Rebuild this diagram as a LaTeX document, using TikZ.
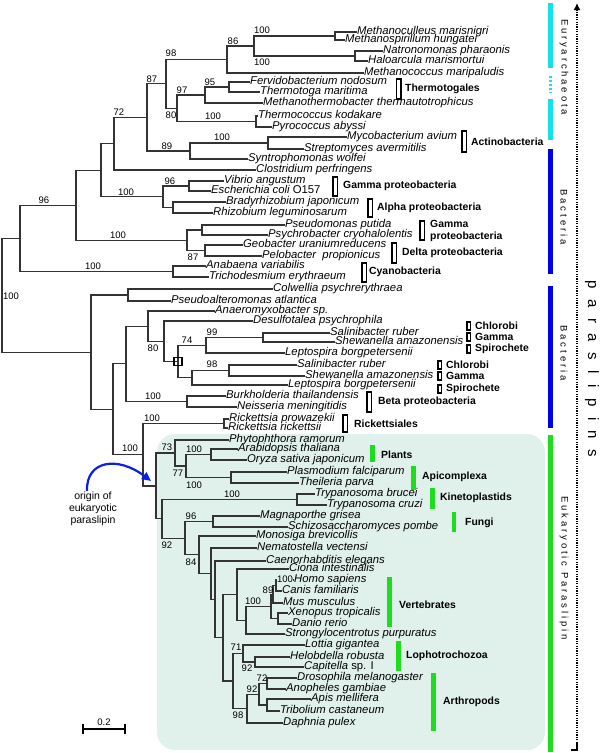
\documentclass[tikz,border=0pt]{standalone}
\usepackage{fontspec}
\setmainfont{Liberation Sans}
\newfontfamily\vlab[LetterSpace=30]{Liberation Sans}
\newfontfamily\bigvlab[LetterSpace=70]{Liberation Sans}
\usetikzlibrary{arrows.meta}
\definecolor{mint}{RGB}{224,240,234}
\definecolor{brgreen}{RGB}{30,220,30}
\definecolor{cyanbar}{RGB}{20,225,240}
\definecolor{bluebar}{RGB}{0,0,230}
\definecolor{arrblue}{RGB}{10,30,240}
\begin{document}
\begin{tikzpicture}[x=1pt,y=-1pt,
  br/.style={line width=1.1pt, draw=black!80},
  leaf/.style={anchor=west, inner sep=0pt, font=\fontsize{11.3}{12}\selectfont\itshape, text height=8pt, text depth=2.5pt},
  bs/.style={font=\fontsize{9.5}{10}\selectfont, inner sep=0.5pt},
  grp/.style={anchor=west, inner sep=0pt, font=\fontsize{10.4}{12}\selectfont\bfseries},
  bkt/.style={draw=black, line width=1.4pt, fill=white},
  vl/.style={rotate=-90, inner sep=0pt, font=\fontsize{9.5}{11}\vlab},
]
\useasboundingbox (0,0) rectangle (600,753);
% eukaryotic background
\fill[mint, rounded corners=18pt] (157,434) rectangle (545,750);

% ---------- leaves (upper) ----------
\node[leaf] (Mmar) at (357,32) {Methanoculleus marisnigri};
\node[leaf] (Mhun) at (345,40) {Methanospirillum hungatei};
\node[leaf] (Npha) at (383,51) {Natronomonas pharaonis};
\node[leaf] (Hmar) at (368,61) {Haloarcula marismortui};
\node[leaf] (Mmari) at (364,73) {Methanococcus maripaludis};
\node[leaf] (Fnod) at (250,82) {Fervidobacterium nodosum};
\node[leaf] (Tmar) at (260,92) {Thermotoga maritima};
\node[leaf] (Mthe) at (263,103) {Methanothermobacter thermautotrophicus};
\node[leaf] (Tkod) at (258,116) {Thermococcus kodakare};
\node[leaf] (Paby) at (272,127) {Pyrococcus abyssi};
\node[leaf] (Mavi) at (347,137) {Mycobacterium avium};
\node[leaf] (Save) at (304,149) {Streptomyces avermitilis};
\node[leaf] (Swol) at (248,159) {Syntrophomonas wolfei};
\node[leaf] (Cper) at (256,170) {Clostridium perfringens};
\node[leaf] (Vang) at (224,181) {Vibrio angustum};
\node[leaf] (Ecol) at (211,191) {Escherichia coli {\upshape O157}};
\node[leaf] (Bjap) at (226,202) {Bradyrhizobium japonicum};
\node[leaf] (Rleg) at (213,213) {Rhizobium leguminosarum};
\node[leaf] (Pput) at (285,225) {Pseudomonas putida};
\node[leaf] (Pcry) at (268,235) {Psychrobacter cryohalolentis};
\node[leaf] (Gura) at (243,245) {Geobacter uraniumreducens};
\node[leaf] (Ppro) at (262,256) {Pelobacter\ \ propionicus};
\node[leaf] (Avar) at (206,266) {Anabaena variabilis};
\node[leaf] (Tery) at (209,277) {Trichodesmium erythraeum};

% ---------- leaves (lower) ----------
\node[leaf] (Cpsy) at (273,289) {Colwellia psychrerythraea};
\node[leaf] (Patl) at (171,301) {Pseudoalteromonas atlantica};
\node[leaf] (Anae) at (215,311) {Anaeromyxobacter sp.};
\node[leaf] (Dpsy) at (253,321) {Desulfotalea psychrophila};
\node[leaf] (Srub1) at (330,333) {Salinibacter ruber};
\node[leaf] (Sama1) at (335,342) {Shewanella amazonensis};
\node[leaf] (Lbor1) at (285,353) {Leptospira borgpetersenii};
\node[leaf] (Srub2) at (297,365) {Salinibacter ruber};
\node[leaf] (Sama2) at (305,376) {Shewanella amazonensis};
\node[leaf] (Lbor2) at (288,385) {Leptospira borgpetersenii};
\node[leaf] (Btha) at (226,396) {Burkholderia thailandensis};
\node[leaf] (Nmen) at (237,407) {Neisseria meningitidis};
\node[leaf] (Rpro) at (229,419) {Rickettsia prowazekii};
\node[leaf] (Rric) at (228,428) {Rickettsia rickettsii};
\node[leaf] (Pram) at (229,440) {Phytophthora ramorum};
\node[leaf] (Atha) at (238,449) {Arabidopsis thaliana};
\node[leaf] (Osat) at (247,460) {Oryza sativa japonicum};
\node[leaf] (Pfal) at (287,472) {Plasmodium falciparum};
\node[leaf] (Tpar) at (299,483) {Theileria parva};
\node[leaf] (Tbru) at (315,494) {Trypanosoma brucei};
\node[leaf] (Tcru) at (327,505) {Trypanosoma cruzi};
\node[leaf] (Mgri) at (260,516) {Magnaporthe grisea};
\node[leaf] (Spom) at (288,527) {Schizosaccharomyces pombe};
\node[leaf] (Mbre) at (256,536) {Monosiga brevicollis};
\node[leaf] (Nvec) at (257,548) {Nematostella vectensi};
\node[leaf] (Cele) at (266,561) {Caenorhabditis elegans};
\node[leaf] (Cint) at (289,569) {Ciona intestinalis};
\node[leaf] (Hsap) at (294,580) {Homo sapiens};
\node[leaf] (Cfam) at (282,591) {Canis familiaris};
\node[leaf] (Mmus) at (283,603) {Mus musculus};
\node[leaf] (Xtro) at (288,613) {Xenopus tropicalis};
\node[leaf] (Drer) at (292,624) {Danio rerio};
\node[leaf] (Spur) at (285,634) {Strongylocentrotus purpuratus};
\node[leaf] (Lgig) at (305,645) {Lottia gigantea};
\node[leaf] (Hrob) at (290,657) {Helobdella robusta};
\node[leaf] (Capi) at (304,667) {Capitella {\upshape sp. I}};
\node[leaf] (Dmel) at (297,678) {Drosophila melanogaster};
\node[leaf] (Agam) at (286,689) {Anopheles gambiae};
\node[leaf] (Amel) at (311,699) {Apis mellifera};
\node[leaf] (Tcas) at (280,711) {Tribolium castaneum};
\node[leaf] (Dpul) at (283,723) {Daphnia pulex};

% ---------- internal nodes ----------
\coordinate (A100) at (335,36);
\coordinate (nB) at (355,56);
\coordinate (nC) at (254,46);
\coordinate (n86) at (227,59.5);
\coordinate (n95) at (229,87);
\coordinate (n97) at (205,95);
\coordinate (nT) at (256,121.5);
\coordinate (n80) at (177,108.25);
\coordinate (n98) at (166,83.9);
\coordinate (nM) at (268,143);
\coordinate (n89) at (190,151);
\coordinate (n87) at (147,117.4);
\coordinate (n72) at (114,143.7);
\coordinate (nVE) at (189,186);
\coordinate (nBR) at (173,207.5);
\coordinate (n96b) at (163,196.75);
\coordinate (n101) at (101,170.2);
\coordinate (nPP) at (202,230);
\coordinate (nGP) at (205,250.5);
\coordinate (n187) at (187,240.25);
\coordinate (n76) at (76,205.2);
\coordinate (nAT) at (173,271.5);
\coordinate (n96) at (20,238.4);
\coordinate (root) at (2,295);

\coordinate (nCP) at (128,295);
\coordinate (nSS1) at (263,337.5);
\coordinate (n74) at (206,345.25);
\coordinate (nSS2) at (229,370.5);
\coordinate (n98c) at (192,377.75);
\coordinate (nBox) at (178,361.5);
\coordinate (n164) at (164,341.25);
\coordinate (n80b) at (148,326.1);
\coordinate (nBN) at (187,401.5);
\coordinate (n126) at (126,363.8);
\coordinate (nRR) at (224,423.5);
\coordinate (nAO) at (211,454.5);
\coordinate (nPT) at (231,477.5);
\coordinate (n77) at (186,466);
\coordinate (n73) at (175,453);
\coordinate (nTT) at (297,499.5);
\coordinate (nMS) at (213,521.5);
\coordinate (nHC) at (276,585.5);
\coordinate (n89v) at (273,594.25);
\coordinate (nXD) at (278,618.5);
\coordinate (nV) at (271,606.4);
\coordinate (n246) at (246,620.2);
\coordinate (n237) at (237,594.6);
\coordinate (nHCp) at (255,662);
\coordinate (n71) at (243,653.5);
\coordinate (n72a) at (267,683.5);
\coordinate (nAT2) at (267,705);
\coordinate (n92a) at (259,694.25);
\coordinate (n98d) at (247,708.6);
\coordinate (n233) at (233,681);
\coordinate (n223) at (223,637.8);
\coordinate (n215) at (215,599.4);
\coordinate (n211) at (211,573.7);
\coordinate (n84) at (199,554.9);
\coordinate (n185) at (185,538.2);
\coordinate (n92) at (162,518.9);
\coordinate (n156) at (156,486);
\coordinate (n143) at (143,454.7);
\coordinate (n113) at (113,409.3);
\coordinate (n91) at (91,352.1);

% ---------- branches ----------
\draw[br] (A100) |- (Mmar.west);  \draw[br] (A100) |- (Mhun.west);
\draw[br] (nB) |- (Npha.west);    \draw[br] (nB) |- (Hmar.west);
\draw[br] (nC) |- (A100);         \draw[br] (nC) |- (nB);
\draw[br] (n86) |- (nC);          \draw[br] (n86) |- (Mmari.west);
\draw[br] (n95) |- (Fnod.west);   \draw[br] (n95) |- (Tmar.west);
\draw[br] (n97) |- (n95);         \draw[br] (n97) |- (Mthe.west);
\draw[br] (nT) |- (Tkod.west);    \draw[br] (nT) |- (Paby.west);
\draw[br] (n80) |- (n97);         \draw[br] (n80) |- (nT);
\draw[br] (n98) |- (n86);         \draw[br] (n98) |- (n80);
\draw[br] (nM) |- (Mavi.west);    \draw[br] (nM) |- (Save.west);
\draw[br] (n89) |- (nM);          \draw[br] (n89) |- (Swol.west);
\draw[br] (n87) |- (n98);         \draw[br] (n87) |- (n89);
\draw[br] (n72) |- (n87);         \draw[br] (n72) |- (Cper.west);
\draw[br] (nVE) |- (Vang.west);   \draw[br] (nVE) |- (Ecol.west);
\draw[br] (nBR) |- (Bjap.west);   \draw[br] (nBR) |- (Rleg.west);
\draw[br] (n96b) |- (nVE);        \draw[br] (n96b) |- (nBR);
\draw[br] (n101) |- (n72);        \draw[br] (n101) |- (n96b);
\draw[br] (nPP) |- (Pput.west);   \draw[br] (nPP) |- (Pcry.west);
\draw[br] (nGP) |- (Gura.west);   \draw[br] (nGP) |- (Ppro.west);
\draw[br] (n187) |- (nPP);        \draw[br] (n187) |- (nGP);
\draw[br] (n76) |- (n101);        \draw[br] (n76) |- (n187);
\draw[br] (nAT) |- (Avar.west);   \draw[br] (nAT) |- (Tery.west);
\draw[br] (n96) |- (n76);         \draw[br] (n96) |- (nAT);
\draw[br] (root) |- (n96);        \draw[br] (root) |- (n91);

\draw[br] (nCP) |- (Cpsy.west);   \draw[br] (nCP) |- (Patl.west);
\draw[br] (nSS1) |- (Srub1.west); \draw[br] (nSS1) |- (Sama1.west);
\draw[br] (n74) |- (nSS1);        \draw[br] (n74) |- (Lbor1.west);
\draw[br] (nSS2) |- (Srub2.west); \draw[br] (nSS2) |- (Sama2.west);
\draw[br] (n98c) |- (nSS2);       \draw[br] (n98c) |- (Lbor2.west);
\draw[br] (nBox) |- (n74);        \draw[br] (nBox) |- (n98c);
\draw[br] (n164) |- (Dpsy.west);  \draw[br] (n164) |- (nBox);
\draw[br] (n80b) |- (Anae.west);  \draw[br] (n80b) |- (n164);
\draw[br] (nBN) |- (Btha.west);   \draw[br] (nBN) |- (Nmen.west);
\draw[br] (n126) |- (n80b);       \draw[br] (n126) |- (nBN);
\draw[br] (nRR) |- (Rpro.west);   \draw[br] (nRR) |- (Rric.west);
\draw[br] (nAO) |- (Atha.west);   \draw[br] (nAO) |- (Osat.west);
\draw[br] (nPT) |- (Pfal.west);   \draw[br] (nPT) |- (Tpar.west);
\draw[br] (n77) |- (nAO);         \draw[br] (n77) |- (nPT);
\draw[br] (n73) |- (Pram.west);   \draw[br] (n73) |- (n77);
\draw[br] (nTT) |- (Tbru.west);   \draw[br] (nTT) |- (Tcru.west);
\draw[br] (nMS) |- (Mgri.west);   \draw[br] (nMS) |- (Spom.west);
\draw[br] (nHC) |- (Hsap.west);   \draw[br] (nHC) |- (Cfam.west);
\draw[br] (n89v) |- (nHC);        \draw[br] (n89v) |- (Mmus.west);
\draw[br] (nXD) |- (Xtro.west);   \draw[br] (nXD) |- (Drer.west);
\draw[br] (nV) |- (n89v);         \draw[br] (nV) |- (nXD);
\draw[br] (n246) |- (nV);         \draw[br] (n246) |- (Spur.west);
\draw[br] (n237) |- (Cint.west);  \draw[br] (n237) |- (n246);
\draw[br] (nHCp) |- (Hrob.west);  \draw[br] (nHCp) |- (Capi.west);
\draw[br] (n71) |- (Lgig.west);   \draw[br] (n71) |- (nHCp);
\draw[br] (n72a) |- (Dmel.west);  \draw[br] (n72a) |- (Agam.west);
\draw[br] (nAT2) |- (Amel.west);  \draw[br] (nAT2) |- (Tcas.west);
\draw[br] (n92a) |- (n72a);       \draw[br] (n92a) |- (nAT2);
\draw[br] (n98d) |- (n92a);       \draw[br] (n98d) |- (Dpul.west);
\draw[br] (n233) |- (n71);        \draw[br] (n233) |- (n98d);
\draw[br] (n223) |- (n237);       \draw[br] (n223) |- (n233);
\draw[br] (n215) |- (Cele.west);  \draw[br] (n215) |- (n223);
\draw[br] (n211) |- (Nvec.west);  \draw[br] (n211) |- (n215);
\draw[br] (n84) |- (Mbre.west);   \draw[br] (n84) |- (n211);
\draw[br] (n185) |- (nMS);        \draw[br] (n185) |- (n84);
\draw[br] (n92) |- (nTT);         \draw[br] (n92) |- (n185);
\draw[br] (n156) |- (n73);        \draw[br] (n156) |- (n92);
\draw[br] (n143) |- (nRR);        \draw[br] (n143) |- (n156);
\draw[br] (n113) |- (n126);       \draw[br] (n113) |- (n143);
\draw[br] (n91) |- (nCP);         \draw[br] (n91) |- (n113);

\node[draw=black, line width=1.2pt, minimum size=8pt, inner sep=0pt] (boxmark) at (nBox) {};

% ---------- bootstrap values ----------
\node[bs] (b01) at (262,30) {100};
\node[bs] (b02) at (262,62) {100};
\node[bs] (b03) at (233,41) {86};
\node[bs] (b04) at (171,53) {98};
\node[bs] (b05) at (152,79) {87};
\node[bs] (b06) at (119,112) {72};
\node[bs] (b07) at (210,82) {95};
\node[bs] (b08) at (182,90) {97};
\node[bs] (b09) at (171,115) {80};
\node[bs] (b10) at (213,116) {100};
\node[bs] (b11) at (167,146) {89};
\node[bs] (b12) at (222,137) {100};
\node[bs] (b13) at (44,200) {96};
\node[bs] (b14) at (126,192) {100};
\node[bs] (b15) at (170,181) {96};
\node[bs] (b16) at (118,235) {100};
\node[bs] (b17) at (193,257) {87};
\node[bs] (b18) at (93,266) {100};
\node[bs] (b19) at (11,296) {100};
\node[bs] (b20) at (212,332) {99};
\node[bs] (b21) at (187,340) {74};
\node[bs] (b22) at (212,364) {98};
\node[bs] (b23) at (153,348) {80};
\node[bs] (b24) at (153,396) {100};
\node[bs] (b25) at (152,418) {100};
\node[bs] (b26) at (130,448) {100};
\node[bs] (b27) at (167,447.5) {73};
\node[bs] (b28) at (194,449) {100};
\node[bs] (b29) at (178,473) {77};
\node[bs] (b30) at (194,485) {100};
\node[bs] (b31) at (232,494) {100};
\node[bs] (b32) at (191,516) {96};
\node[bs] (b33) at (167,545) {92};
\node[bs] (b34) at (191,562) {84};
\node[bs, fill=mint] (b35) at (285,579) {100};
\node[bs] (b36) at (268,590) {89};
\node[bs] (b37) at (253,601) {100};
\node[bs] (b38) at (236,647) {71};
\node[bs] (b39) at (247,668) {92};
\node[bs] (b40) at (262,678) {72};
\node[bs] (b41) at (252,689) {92};
\node[bs] (b42) at (238,715) {98};

% ---------- group brackets ----------
\draw[bkt] (396.5,79) rectangle (401,99);   \node[grp] (gThe) at (405,89) {Thermotogales};
\draw[bkt] (462,131) rectangle (466.5,152); \node[grp] (gAct) at (471,142) {Actinobacteria};
\draw[bkt] (333,177) rectangle (337.5,196); \node[grp] (gGam1) at (343,186) {Gamma proteobacteria};
\draw[bkt] (368,199) rectangle (372.5,217); \node[grp] (gAlp) at (377,208) {Alpha proteobacteria};
\draw[bkt] (420,221) rectangle (424.5,240); \node[grp, align=left] (gGam2) at (430,231) {Gamma\\proteobacteria};
\draw[bkt] (392,243) rectangle (396.5,263); \node[grp] (gDel) at (402,253) {Delta proteobacteria};
\draw[bkt] (362,263) rectangle (366.5,282); \node[grp] (gCya) at (369,272) {Cyanobacteria};
\draw[bkt] (367,392) rectangle (371.5,412); \node[grp] (gBet) at (378,402) {Beta proteobacteria};
\draw[bkt] (343,415) rectangle (347.5,432); \node[grp] (gRic) at (354,424) {Rickettsiales};

\draw[bkt] (467,322) rectangle (470.5,330); \node[grp] (sC1) at (475,326) {Chlorobi};
\draw[bkt] (467,333) rectangle (470.5,341); \node[grp] (sG1) at (475,337) {Gamma};
\draw[bkt] (467,345) rectangle (470.5,353); \node[grp] (sS1) at (475,349) {Spirochete};
\draw[bkt] (438,361) rectangle (441.5,369); \node[grp] (sC2) at (446,365) {Chlorobi};
\draw[bkt] (438,372) rectangle (441.5,380); \node[grp] (sG2) at (446,376) {Gamma};
\draw[bkt] (438,385) rectangle (441.5,393); \node[grp] (sS2) at (446,389) {Spirochete};

% ---------- eukaryote green bars ----------
\fill[brgreen] (370,445) rectangle (374.5,462);  \node[grp] (gPla) at (381,455) {Plants};
\fill[brgreen] (411,466) rectangle (415.5,490);  \node[grp] (gApi) at (422,477) {Apicomplexa};
\fill[brgreen] (430,488) rectangle (434.5,509);  \node[grp] (gKin) at (440,498) {Kinetoplastids};
\fill[brgreen] (451.5,512) rectangle (456,532);  \node[grp] (gFun) at (465,523) {Fungi};
\fill[brgreen] (387,577) rectangle (391.5,627);  \node[grp] (gVer) at (399,605) {Vertebrates};
\fill[brgreen] (396,641) rectangle (400.5,671);  \node[grp] (gLop) at (406,656) {Lophotrochozoa};
\fill[brgreen] (431,673) rectangle (435.5,731);  \node[grp] (gArt) at (443,702) {Arthropods};

% ---------- right-hand bars ----------
\fill[cyanbar] (548,3) rectangle (552.5,68);
\draw[cyanbar, line width=2.5pt, dash pattern=on 2pt off 2pt] (550.25,76) -- (550.25,93);
\fill[cyanbar] (548,99) rectangle (552.5,140);
\fill[bluebar] (548,149) rectangle (552.5,274);
\fill[bluebar] (548,286) rectangle (552.5,428);
\fill[brgreen] (548,435) rectangle (552.5,752);

\node[vl] (vEur) at (564,67) {Euryarchaeota};
\node[vl] (vBa1) at (564,217) {Bacteria};
\node[vl] (vBa2) at (564,353) {Bacteria};
\node[vl] (vEuk) at (564,568) {Eukaryotic Paraslipin};

\coordinate (dtop) at (577,3);
\coordinate (dbot) at (577,750);
\draw[line width=1.4pt, dash pattern=on 1.3pt off 1.1pt, -{Latex[length=7pt,width=7pt]}] (dbot) -- (dtop);
\draw[line width=1.3pt] (577,742) -- (dbot) -- (571,750);
\node[rotate=-90, inner sep=0pt, font=\fontsize{15}{18}\bigvlab] (vPar) at (592,369) {paraslipins};

% ---------- origin annotation ----------
\node[font=\fontsize{10.5}{12}\selectfont, align=center, inner sep=1pt] (orig) at (93,509) {origin of\\eukaryotic\\paraslipin};
\coordinate (arrtip) at (151,481);
\draw[arrblue, line width=2.2pt, -{Triangle[length=9pt,width=8pt]}] ([xshift=-6pt]orig.north) .. controls (86,460) and (118,456) .. (arrtip);

% ---------- scale bar ----------
\coordinate (sbL) at (83,729);
\coordinate (sbR) at (125,729);
\draw[line width=1.6pt] (sbL) -- (sbR);
\draw[line width=1.6pt] (83,724) -- (83,734);
\draw[line width=1.6pt] (125,724) -- (125,734);
\node[bs] (sbLab) at (104,722) {0.2};
\end{tikzpicture}
\end{document}
